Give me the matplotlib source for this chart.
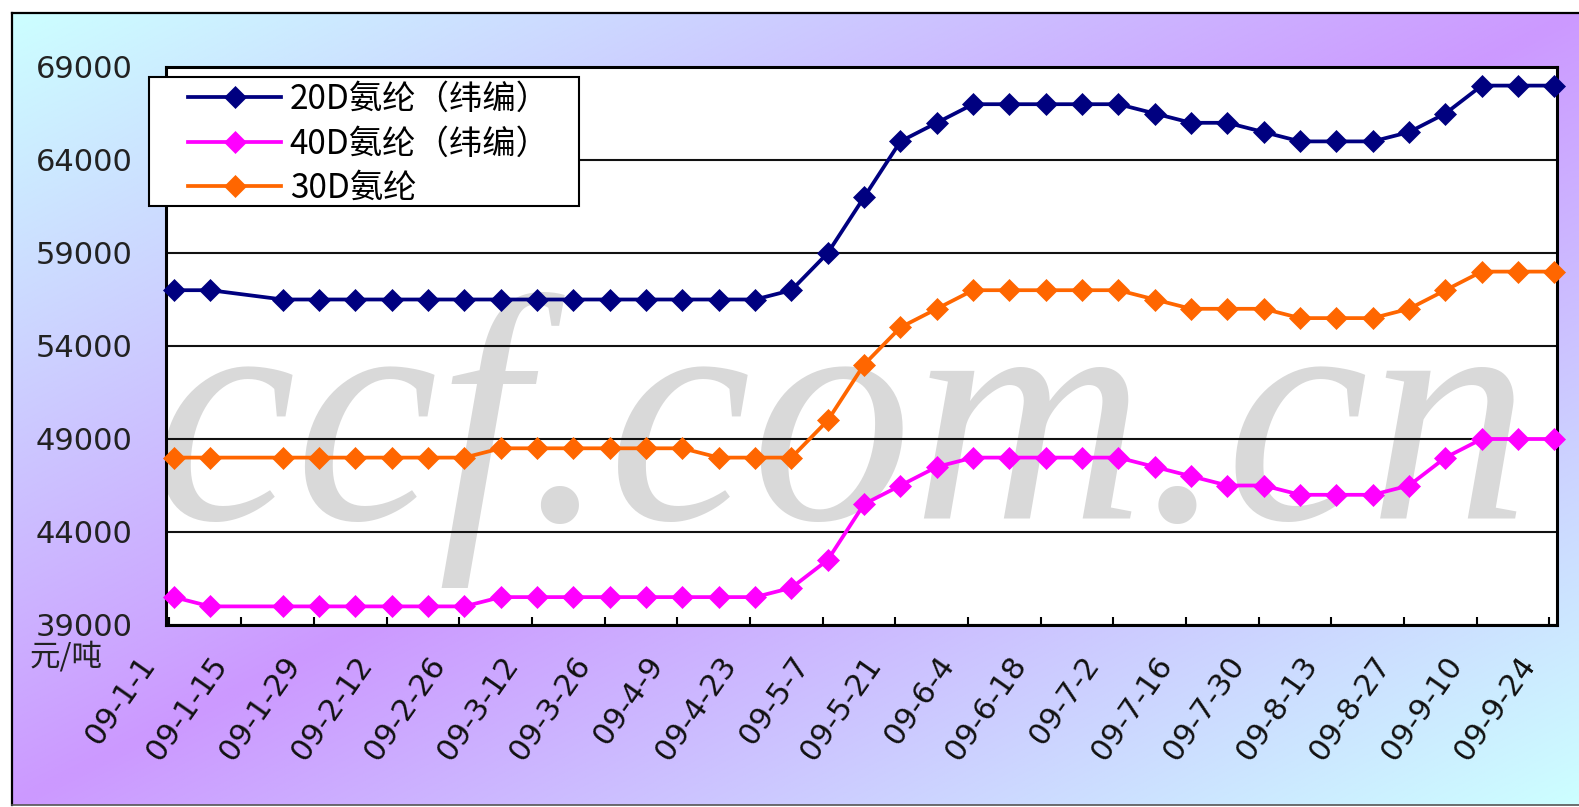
import numpy as np
import matplotlib
matplotlib.use("Agg")
import matplotlib.pyplot as plt
import matplotlib.dates as mdates
from matplotlib.patches import Rectangle
from matplotlib.lines import Line2D
from matplotlib.transforms import ScaledTranslation

# ---------------- data ----------------
dates = ["2009-01-02", "2009-01-09", "2009-01-23", "2009-01-30", "2009-02-06", "2009-02-13",
         "2009-02-20", "2009-02-27", "2009-03-06", "2009-03-13", "2009-03-20", "2009-03-27",
         "2009-04-03", "2009-04-10", "2009-04-17", "2009-04-24", "2009-05-01", "2009-05-08",
         "2009-05-15", "2009-05-22", "2009-05-29", "2009-06-05", "2009-06-12", "2009-06-19",
         "2009-06-26", "2009-07-03", "2009-07-10", "2009-07-17", "2009-07-24", "2009-07-31",
         "2009-08-07", "2009-08-14", "2009-08-21", "2009-08-28", "2009-09-04", "2009-09-11",
         "2009-09-18", "2009-09-25"]

s20d = [57000, 57000, 56500, 56500, 56500, 56500, 56500, 56500, 56500, 56500, 56500, 56500,
        56500, 56500, 56500, 56500, 57000, 59000, 62000, 65000, 66000, 67000, 67000, 67000,
        67000, 67000, 66500, 66000, 66000, 65500, 65000, 65000, 65000, 65500, 66500, 68000,
        68000, 68000]

s40d = [40500, 40000, 40000, 40000, 40000, 40000, 40000, 40000, 40500, 40500, 40500, 40500,
        40500, 40500, 40500, 40500, 41000, 42500, 45500, 46500, 47500, 48000, 48000, 48000,
        48000, 48000, 47500, 47000, 46500, 46500, 46000, 46000, 46000, 46500, 48000, 49000,
        49000, 49000]

s30d = [48000, 48000, 48000, 48000, 48000, 48000, 48000, 48000, 48500, 48500, 48500, 48500,
        48500, 48500, 48000, 48000, 48000, 50000, 53000, 55000, 56000, 57000, 57000, 57000,
        57000, 57000, 56500, 56000, 56000, 56000, 55500, 55500, 55500, 56000, 57000, 58000,
        58000, 58000]

series_names = ["20D氨纶（纬编）", "40D氨纶（纬编）", "30D氨纶"]
series_colors = ["#000080", "#FF00FF", "#FF6600"]

tick_dates = ["2009-01-01", "2009-01-15", "2009-01-29", "2009-02-12", "2009-02-26",
              "2009-03-12", "2009-03-26", "2009-04-09", "2009-04-23", "2009-05-07",
              "2009-05-21", "2009-06-04", "2009-06-18", "2009-07-02", "2009-07-16",
              "2009-07-30", "2009-08-13", "2009-08-27", "2009-09-10", "2009-09-24"]
tick_labels = ["09-1-1", "09-1-15", "09-1-29", "09-2-12", "09-2-26", "09-3-12", "09-3-26",
               "09-4-9", "09-4-23", "09-5-7", "09-5-21", "09-6-4", "09-6-18", "09-7-2",
               "09-7-16", "09-7-30", "09-8-13", "09-8-27", "09-9-10", "09-9-24"]
y_ticks = [39000, 44000, 49000, 54000, 59000, 64000, 69000]
unit_label = "元/吨"
watermark = "ccf.com.cn"

CJK = ["Noto Sans CJK SC", "DejaVu Sans"]

# ---------------- figure ----------------
W, H = 1579, 807
fig = plt.figure(figsize=(W / 100, H / 100), dpi=100)
fig.patch.set_facecolor("white")

# gradient background (purple along anti-diagonal, cyan toward TL/BR corners)
bx0, by0, bx1, by1 = 12, 13, W, 805
bg = fig.add_axes([bx0 / W, 1 - by1 / H, (bx1 - bx0) / W, (by1 - by0) / H], zorder=-10)
u = np.linspace(0, 1, 400)
v = np.linspace(0, 1, 300)
U, V = np.meshgrid(u, v)
t = np.abs(U + V - 1.0)
c_purple = np.array([204, 153, 255]) / 255.0
c_cyan = np.array([204, 255, 255]) / 255.0
img = c_purple + (c_cyan - c_purple) * t[..., None]
bg.imshow(img, aspect="auto", interpolation="bilinear")
bg.set_axis_off()

# outer frame lines
fig.add_artist(Line2D([bx0 / W, bx0 / W], [1 - by0 / H, 1 - by1 / H], color="black", lw=1.6,
                      transform=fig.transFigure, zorder=1))
fig.add_artist(Line2D([bx0 / W, 1], [1 - by0 / H, 1 - by0 / H], color="black", lw=1.6,
                      transform=fig.transFigure, zorder=1))
fig.add_artist(Line2D([bx0 / W, 1], [1 - by1 / H, 1 - by1 / H], color="#555555", lw=1.2,
                      transform=fig.transFigure, zorder=1))

# main axes
L, R, T, B = 166, 1557, 67, 625
ax = fig.add_axes([L / W, 1 - B / H, (R - L) / W, (B - T) / H])
ax.set_facecolor("white")

xd = mdates.date2num(np.array(dates, dtype="datetime64[D]"))
xt = mdates.date2num(np.array(tick_dates, dtype="datetime64[D]"))

ax.text(0.485, 0.19, watermark, transform=ax.transAxes, ha="center", va="baseline",
        fontsize=232, family="Liberation Serif", style="italic", color="#D9D9D9",
        zorder=0.3, clip_on=True)

for vals, name, col in zip([s20d, s40d, s30d], series_names, series_colors):
    ax.plot(xd, vals, color=col, lw=2.7, marker="D", ms=11, mec=col, mew=0.5,
            label=name, zorder=3, clip_on=False)

ax.set_xlim(xt[0] - 0.5, xd[-1] + 0.5)
ax.set_ylim(y_ticks[0], y_ticks[-1])

ax.set_axisbelow(True)
ax.set_yticks(y_ticks)
ax.set_yticklabels([str(v) for v in y_ticks], fontsize=22, color="#222222")
ax.yaxis.grid(True, color="#111111", lw=1.5)
ax.tick_params(axis="y", length=0, pad=24)

ax.set_xticks(xt)
ax.set_xticklabels(tick_labels, rotation=55, ha="right", va="top", fontsize=22, color="#111111")
ax.tick_params(axis="x", direction="in", length=6, width=1.5, pad=19)
off = ScaledTranslation(-8 / 100, 0, fig.dpi_scale_trans)
for lab in ax.get_xticklabels():
    lab.set_transform(lab.get_transform() + off)

for sp in ax.spines.values():
    sp.set_linewidth(2.2)
    sp.set_color("black")

fig.text(30 / W, 1 - 657 / H, unit_label, fontsize=22, family=CJK, va="center", ha="left",
         color="#222222")

# legend box and legend
fig.add_artist(Rectangle((149 / W, 1 - 206 / H), 430 / W, 129 / H, transform=fig.transFigure,
                         facecolor="white", edgecolor="black", lw=1.5, zorder=4))
handles, labels = ax.get_legend_handles_labels()
leg = fig.legend(handles, labels, loc="upper left", bbox_to_anchor=(188 / W, 1 - 82 / H),
                 bbox_transform=fig.transFigure, frameon=False, borderpad=0, borderaxespad=0,
                 handlelength=2.8, handletextpad=0.25, labelspacing=0.28,
                 prop={"family": CJK, "size": 24})
leg.set_zorder(5)

fig.savefig("out.png", dpi=100)
